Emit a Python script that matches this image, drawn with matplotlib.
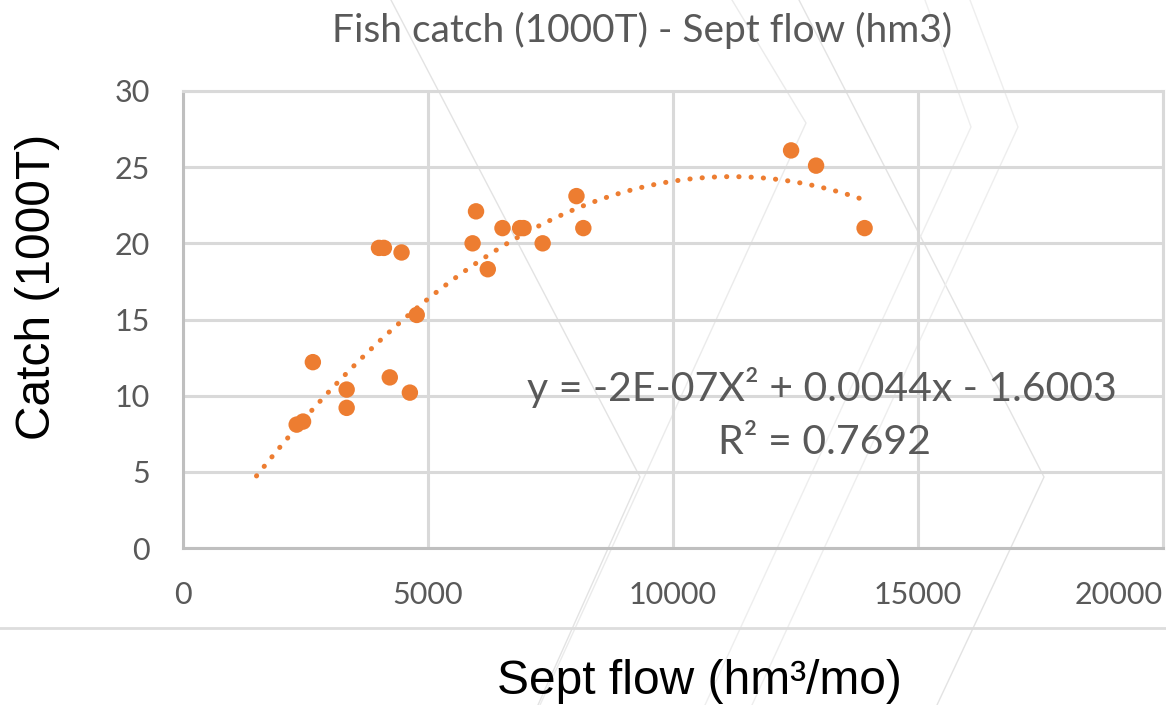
import numpy as np
import matplotlib
matplotlib.use("Agg")
import matplotlib.pyplot as plt
from matplotlib.lines import Line2D

# ---- data ----
flow = [2320, 2450, 2650, 3340, 3340, 4000, 4100, 4460, 4220, 4630, 4770,
        5980, 5910, 6220, 6520, 6880, 6950, 7340, 8030, 8170, 12410, 12920, 13910]
catch = [8.1, 8.3, 12.2, 10.4, 9.2, 19.7, 19.7, 19.4, 11.2, 10.2, 15.3,
         22.1, 20.0, 18.3, 21.0, 21.0, 21.0, 20.0, 23.1, 21.0, 26.1, 25.1, 21.0]
trend_coef = [-2.09e-7, 0.00468, -1.82]
trend_range = [1500, 13900]
x_ticks = [0, 5000, 10000, 15000, 20000]
y_ticks = [0, 5, 10, 15, 20, 25, 30]

title = "Fish catch (1000T) - Sept flow (hm3)"
xlabel = "Sept flow (hm³/mo)"
ylabel = "Catch (1000T)"
eq_line = "y = -2E-07X² + 0.0044x - 1.6003"
r2_line = "R² = 0.7692"

orange = "#ED7D31"
gray_txt = "#595959"
grid_c = "#D9D9D9"

fig = plt.figure(figsize=(11.66, 7.05), dpi=100)
fig.patch.set_facecolor("white")

# faint decorative background lines (figure pixel coords -> fraction)
W, H = 1166, 705
def deco(pts, c="#E3E3E3", lw=1.0):
    xs = [p[0] / W for p in pts]
    ys = [1 - p[1] / H for p in pts]
    fig.add_artist(Line2D(xs, ys, transform=fig.transFigure, color=c, lw=lw, zorder=0))

deco([(391, 0), (640, 477), (538, 705)])
deco([(799, 0), (1044, 477), (937, 705)])
deco([(732, 0), (806, 123), (540, 705)], c="#EBEBEB")
deco([(925, 0), (971, 127), (705, 705)], c="#EEEEEE")
deco([(970, 0), (1018, 127), (752, 705)], c="#EEEEEE")
deco([(0, 628), (W, 628)], c="#DDDDDD", lw=2)

ax = fig.add_axes([183 / W, 1 - 548 / H, (1163 - 183) / W, (548 - 91) / H])
ax.set_facecolor("none")
ax.set_xlim(0, 20000)
ax.set_ylim(0, 30)
ax.set_xticks(x_ticks)
ax.set_yticks(y_ticks)
ax.grid(True, color=grid_c, lw=2.2, zorder=1)
ax.set_axisbelow(True)
for s in ["top", "right"]:
    ax.spines[s].set_color(grid_c)
    ax.spines[s].set_linewidth(2.2)
for s in ["left", "bottom"]:
    ax.spines[s].set_color("#BFBFBF")
    ax.spines[s].set_linewidth(2.2)

ax.tick_params(length=0, pad=24)
for lab in ax.get_xticklabels() + ax.get_yticklabels():
    lab.set_fontfamily(["Lato", "DejaVu Sans"])
    lab.set_fontsize(22)
    lab.set_color(gray_txt)
xl = ax.get_xticklabels()
xl[-1].set_horizontalalignment("right")

# trendline
xt = np.linspace(trend_range[0], trend_range[1], 300)
yt = np.polyval(trend_coef, xt)
ax.plot(xt, yt, color=orange, lw=3.6, linestyle=(0, (0.05, 2.4)),
        dash_capstyle="round", zorder=3)

# points
ax.scatter(flow, catch, s=140, color=orange, edgecolors="none", zorder=4)

# texts
fig.text(642 / W, 1 - 30 / H, title, ha="center", va="center",
         family=["Lato", "DejaVu Sans"], size=28, color=gray_txt)
fig.text(822 / W, 1 - 388 / H, eq_line, ha="center", va="center",
         family=["Lato", "DejaVu Sans"], size=29.5, color=gray_txt)
fig.text(824 / W, 1 - 443 / H, r2_line, ha="center", va="center",
         family=["Lato", "DejaVu Sans"], size=29.5, color=gray_txt)
fig.text(699 / W, 1 - 682 / H, xlabel, ha="center", va="center",
         family=["Liberation Sans", "DejaVu Sans"], size=34.5, color="black")
fig.text(38 / W, 1 - 287 / H, ylabel, ha="center", va="center", rotation=90,
         family=["Liberation Sans", "DejaVu Sans"], size=34.5, color="black")

fig.savefig("out.png", dpi=100)
